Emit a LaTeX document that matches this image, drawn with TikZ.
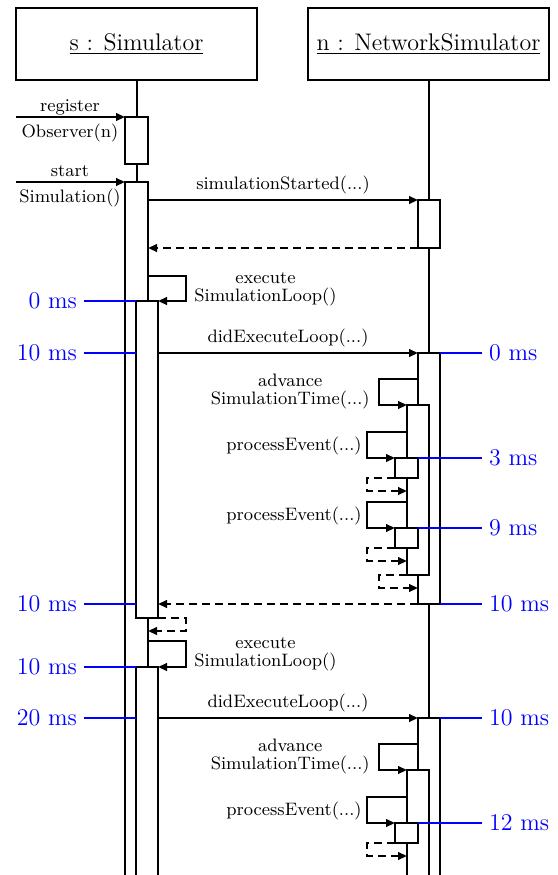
\documentclass[tikz,border=0pt]{standalone}
\usetikzlibrary{arrows.meta,calc}
\begin{document}
\begin{tikzpicture}[x=0.5pt,y=-0.5pt,
  head/.style={draw, line width=1pt, minimum width=120.5pt, minimum height=36pt, font=\large, inner sep=0pt},
  life/.style={line width=1pt},
  act/.style={draw, fill=white, line width=1pt, inner sep=0pt, outer sep=0pt, anchor=north west, minimum width=11pt},
  msg/.style={line width=1pt, -{Triangle[length=4.5pt,width=3.8pt]}},
  ret/.style={msg, dash pattern=on 4pt off 2.5pt},
  lbl/.style={font=\small, align=center, inner sep=1pt},
  inlbl/.style={align=center, inner sep=1pt, font={\fontsize{9}{13}\selectfont}},
  looplbl/.style={align=center, inner sep=1pt, font={\fontsize{9}{8.7}\selectfont}},
  tlbl/.style={font=\large, text=blue, inner sep=1pt, outer sep=2.5pt},
  tline/.style={blue, line width=0.6pt}]
\useasboundingbox (0,0) rectangle (558,875);
% headers and lifelines
\node[head] (sim) at (136.5,44) {\underline{s : Simulator}};
\node[head] (net) at (428.5,44) {\underline{n : NetworkSimulator}};
\coordinate (bot) at (0,900);
\draw[life] (sim.south) -- (sim.south |- bot);
\draw[life] (net.south) -- (net.south |- bot);
% activation boxes
\node[act, minimum width=11.5pt, minimum height=23.5pt] (a1) at (125,117) {};
\node[act, minimum width=11.5pt, minimum height=359pt] (a2) at (125,182) {};
\node[act, minimum height=158.5pt] (a3) at (136,301) {};
\node[act, minimum height=120pt] (a4) at (136,667) {};
\node[act, minimum height=24pt] (b1) at (418,200) {};
\node[act, minimum height=125.5pt] (b2) at (418,353) {};
\node[act, minimum height=85pt] (b3) at (407,405) {};
\node[act, minimum width=11.5pt, minimum height=10pt] (b4) at (395,458) {};
\node[act, minimum width=11.5pt, minimum height=10pt] (b5) at (395,528) {};
\node[act, minimum height=95pt] (b6) at (418,718) {};
\node[act, minimum height=70pt] (b7) at (407,770) {};
\node[act, minimum width=11.5pt, minimum height=10pt] (b8) at (395,823) {};
% incoming calls
\coordinate (in1) at (16,117);
\coordinate (in2) at (16,182);
\draw[msg] (in1) -- (a1.north west);
\node[inlbl] (m1) at (70,120.5) {register\\Observer(n)};
\draw[msg] (in2) -- (a2.north west);
\node[inlbl] (m2) at (70,186) {start\\Simulation()};
% simulationStarted
\draw[msg] (a2.east |- b1.north west) -- (b1.north west) node[lbl, midway, above=1.75pt] (m3) {simulationStarted(...)};
\draw[ret] (b1.south west) -- (a2.east |- b1.south west);
% execute loop 1
\coordinate (e1) at (148,276);
\draw[msg] (e1) -- ++(38,0) |- (a3.north east);
\node[looplbl, anchor=west] (m4) at (192,289) {execute\\SimulationLoop()};
\draw[msg] (a3.north east |- b2.north west) -- (b2.north west) node[lbl, midway, above=1.75pt] (m5) {didExecuteLoop(...)};
\draw[msg] ($(b2.north west)+(0,26)$) -- ++(-39,0) |- (b3.north west);
\node[looplbl, anchor=east] (m6) at (372,391.3) {advance\\SimulationTime(...)};
\draw[msg] ($(b3.north west)+(0,27)$) -- ++(-40,0) |- (b4.north west);
\node[lbl, anchor=east] (m7) at (364,445.5) {processEvent(...)};
\coordinate (r1) at ($(b4.south west)+(0,13)$);
\draw[ret] (b4.south west) -- ++(-28,0) |- (b3.west |- r1);
\draw[msg] ($(b3.north west)+(0,97)$) -- ++(-40,0) |- (b5.north west);
\node[lbl, anchor=east] (m8) at (364,515.5) {processEvent(...)};
\coordinate (r2) at ($(b5.south west)+(0,13)$);
\draw[ret] (b5.south west) -- ++(-28,0) |- (b3.west |- r2);
\coordinate (r3) at ($(b3.south west)+(0,13)$);
\draw[ret] (b3.south west) -- ++(-28,0) |- (b2.west |- r3);
\draw[ret] (b2.south west) -- (a3.east |- b2.south west);
\coordinate (r4) at ($(a3.south east)+(0,13)$);
\draw[ret] (a3.south east) -- ++(28,0) |- (a2.east |- r4);
% execute loop 2
\coordinate (e2) at (148,641);
\draw[msg] (e2) -- ++(38,0) |- (a4.north east);
\node[looplbl, anchor=west] (m9) at (192,654) {execute\\SimulationLoop()};
\draw[msg] (a4.north east |- b6.north west) -- (b6.north west) node[lbl, midway, above=1.75pt] (m10) {didExecuteLoop(...)};
\draw[msg] ($(b6.north west)+(0,26)$) -- ++(-39,0) |- (b7.north west);
\node[looplbl, anchor=east] (m11) at (372,756.3) {advance\\SimulationTime(...)};
\draw[msg] ($(b7.north west)+(0,27)$) -- ++(-40,0) |- (b8.north west);
\node[lbl, anchor=east] (m12) at (364,810.5) {processEvent(...)};
\coordinate (r5) at ($(b8.south west)+(0,13)$);
\draw[ret] (b8.south west) -- ++(-28,0) |- (b7.west |- r5);
% timing labels
\node[tlbl, anchor=east] (t1) at (84,301) {0 ms};
\node[tlbl, anchor=east] (t2) at (84,353) {10 ms};
\node[tlbl, anchor=east] (t3) at (84,604) {10 ms};
\node[tlbl, anchor=east] (t4) at (84,667) {10 ms};
\node[tlbl, anchor=east] (t5) at (84,718) {20 ms};
\draw[tline] (t1.east) -- (a3.west |- t1.east);
\draw[tline] (t2.east) -- (a3.west |- t2.east);
\draw[tline] (t3.east) -- (a3.west |- t3.east);
\draw[tline] (t4.east) -- (a4.west |- t4.east);
\draw[tline] (t5.east) -- (a4.west |- t5.east);
\node[tlbl, anchor=west] (u1) at (482,353) {0 ms};
\node[tlbl, anchor=west] (u2) at (482,458) {3 ms};
\node[tlbl, anchor=west] (u3) at (482,528) {9 ms};
\node[tlbl, anchor=west] (u4) at (482,604) {10 ms};
\node[tlbl, anchor=west] (u5) at (482,718) {10 ms};
\node[tlbl, anchor=west] (u6) at (482,823) {12 ms};
\draw[tline] (b2.north east) -- (u1.west);
\draw[tline] (b4.north east) -- (u2.west);
\draw[tline] (b5.north east) -- (u3.west);
\draw[tline] (b2.south east) -- (u4.west);
\draw[tline] (b6.north east) -- (u5.west);
\draw[tline] (b8.north east) -- (u6.west);
\end{tikzpicture}
\end{document}
